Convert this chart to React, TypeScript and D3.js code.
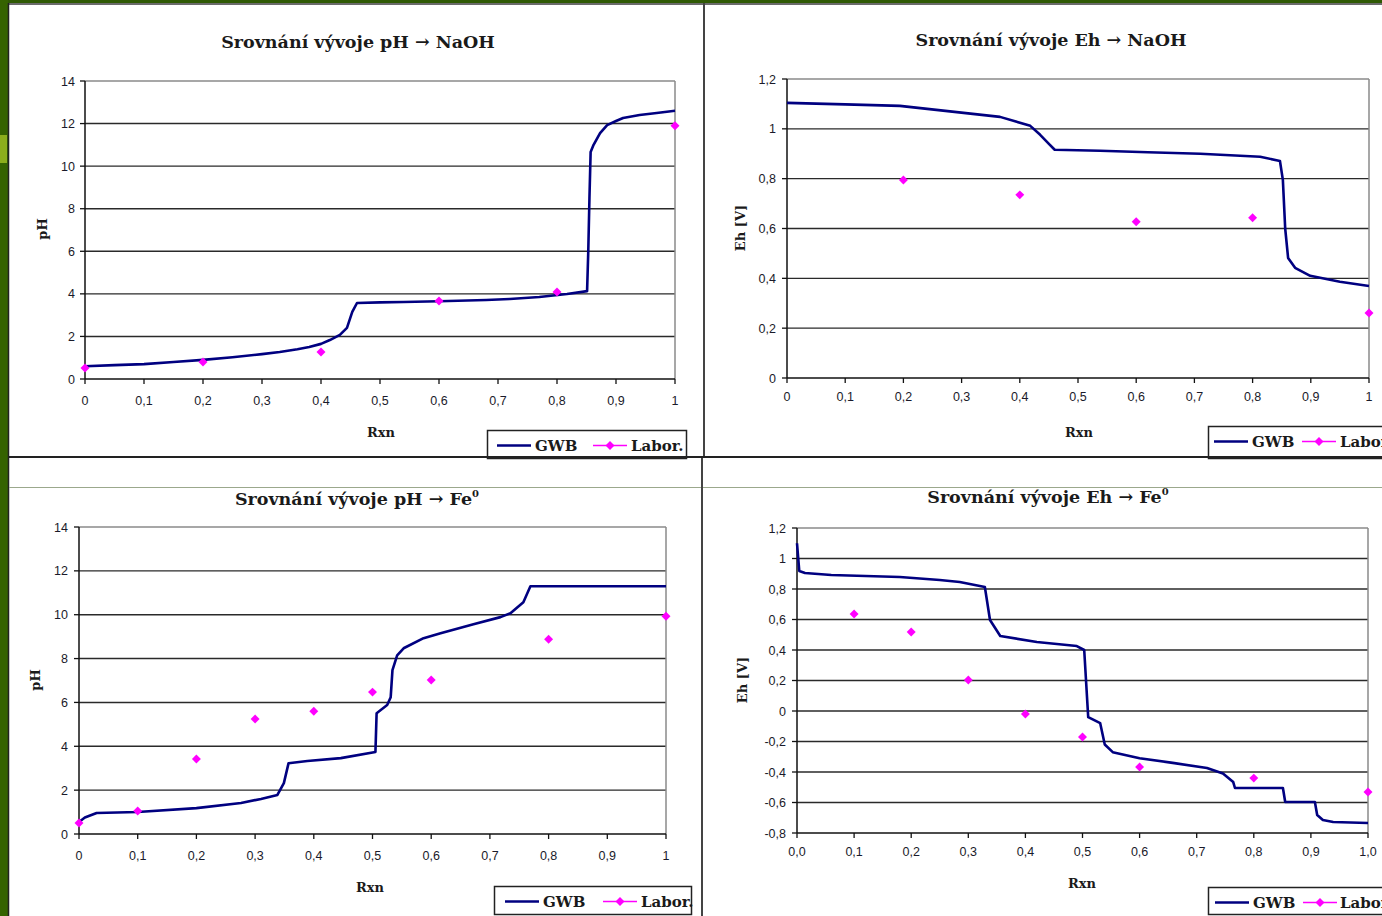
import { useEffect, useRef } from "react";
import * as d3 from "d3";

const W = 1382, H = 916;

// pH -> NaOH (GWB model curve and lab measurements)
const phNaohGwb: [number, number][] = [
  [0, 0.6], [0.05, 0.65], [0.1, 0.7], [0.15, 0.8], [0.2, 0.9], [0.25, 1.02], [0.3, 1.17],
  [0.33, 1.27], [0.36, 1.4], [0.38, 1.5], [0.4, 1.65], [0.415, 1.83], [0.432, 2.07],
  [0.444, 2.4], [0.453, 3.15], [0.461, 3.57], [0.5, 3.6], [0.54, 3.62], [0.6, 3.65],
  [0.68, 3.71], [0.72, 3.76], [0.77, 3.85], [0.817, 3.99], [0.851, 4.13], [0.853, 6],
  [0.855, 8.5], [0.857, 10.66], [0.862, 11.0], [0.873, 11.55], [0.885, 11.93], [0.9, 12.12],
  [0.912, 12.26], [0.94, 12.4], [0.969, 12.5], [1.0, 12.6],
];
const phNaohLab: [number, number][] = [
  [0, 0.52], [0.2, 0.8], [0.4, 1.27], [0.6, 3.66], [0.8, 4.09], [1.0, 11.9],
];

// Eh -> NaOH
const ehNaohGwb: [number, number][] = [
  [0, 1.104], [0.1, 1.098], [0.194, 1.092], [0.28, 1.07], [0.366, 1.048], [0.418, 1.012],
  [0.435, 0.976], [0.45, 0.94], [0.46, 0.916], [0.538, 0.912], [0.62, 0.906], [0.71, 0.9],
  [0.813, 0.888], [0.847, 0.871], [0.852, 0.795], [0.856, 0.6], [0.861, 0.482],
  [0.873, 0.442], [0.899, 0.41], [0.95, 0.386], [1.0, 0.369],
];
const ehNaohLab: [number, number][] = [
  [0.2, 0.795], [0.4, 0.735], [0.6, 0.627], [0.8, 0.643], [1.0, 0.261],
];

// pH -> Fe0
const phFeGwb: [number, number][] = [
  [0, 0.55], [0.01, 0.75], [0.03, 0.96], [0.1, 1.0], [0.2, 1.18], [0.276, 1.41], [0.31, 1.6],
  [0.338, 1.78], [0.349, 2.32], [0.357, 3.23], [0.389, 3.33], [0.446, 3.46], [0.505, 3.74],
  [0.507, 5.51], [0.525, 5.88], [0.531, 6.24], [0.534, 7.47], [0.542, 8.15], [0.553, 8.47],
  [0.587, 8.93], [0.616, 9.16], [0.672, 9.57], [0.718, 9.89], [0.735, 10.07], [0.757, 10.57],
  [0.769, 11.3], [1.0, 11.3],
];
const phFeLab: [number, number][] = [
  [0, 0.5], [0.1, 1.05], [0.2, 3.42], [0.3, 5.24], [0.4, 5.6], [0.5, 6.47], [0.6, 7.02],
  [0.8, 8.88], [1.0, 9.93],
];

// Eh -> Fe0
const ehFeGwb: [number, number][] = [
  [0, 1.1], [0.004, 0.918], [0.014, 0.905], [0.06, 0.892], [0.18, 0.879], [0.25, 0.859],
  [0.285, 0.846], [0.329, 0.813], [0.338, 0.597], [0.356, 0.492], [0.42, 0.452], [0.49, 0.426],
  [0.503, 0.4], [0.51, -0.04], [0.531, -0.08], [0.539, -0.22], [0.553, -0.27], [0.6, -0.31],
  [0.658, -0.34], [0.718, -0.374], [0.746, -0.41], [0.764, -0.466], [0.767, -0.505],
  [0.851, -0.505], [0.855, -0.597], [0.907, -0.597], [0.911, -0.682], [0.921, -0.715],
  [0.939, -0.728], [1.0, -0.734],
];
const ehFeLab: [number, number][] = [
  [0.1, 0.636], [0.2, 0.518], [0.3, 0.203], [0.4, -0.02], [0.5, -0.17], [0.6, -0.367],
  [0.8, -0.44], [1.0, -0.531],
];

const rxnTicks = [0, 0.1, 0.2, 0.3, 0.4, 0.5, 0.6, 0.7, 0.8, 0.9, 1];
const phTicks = [0, 2, 4, 6, 8, 10, 12, 14];
const ehNaohTicks = [0, 0.2, 0.4, 0.6, 0.8, 1, 1.2];
const ehFeTicks = [-0.8, -0.6, -0.4, -0.2, 0, 0.2, 0.4, 0.6, 0.8, 1, 1.2];

const comma = (d: number) => String(+d.toFixed(1)).replace(".", ",");
const comma1 = (d: number) => d.toFixed(1).replace(".", ",");

// leg: [boxX, boxY, boxW, boxH, lineStart, gwbTextX, labLineStart, labTextX]
const panels = [
  {
    title: "Srovnání vývoje pH → NaOH", sup: "", yLabel: "pH",
    gwb: phNaohGwb, lab: phNaohLab, yTicks: phTicks, xFmt: comma,
    x0: 85, x1: 675, y0: 81, y1: 379, xlDy: 26, ylDx: 10,
    tx: 358, ty: 48, yl: [42, 229], rx: [381, 432],
    leg: [487, 430, 199, 28, 10, 48, 106, 144],
  },
  {
    title: "Srovnání vývoje Eh → NaOH", sup: "", yLabel: "Eh [V]",
    gwb: ehNaohGwb, lab: ehNaohLab, yTicks: ehNaohTicks, xFmt: comma,
    x0: 787, x1: 1369, y0: 79, y1: 378, xlDy: 23, ylDx: 11,
    tx: 1051, ty: 46, yl: [740, 228], rx: [1079, 432],
    leg: [1208, 426, 199, 32, 6, 44, 94, 132],
  },
  {
    title: "Srovnání vývoje pH → Fe", sup: "0", yLabel: "pH",
    gwb: phFeGwb, lab: phFeLab, yTicks: phTicks, xFmt: comma,
    x0: 79, x1: 666, y0: 527, y1: 834, xlDy: 26, ylDx: 11,
    tx: 357, ty: 505, yl: [35, 680], rx: [370, 887],
    leg: [494, 886, 197, 28, 11, 49, 109, 147],
  },
  {
    title: "Srovnání vývoje Eh → Fe", sup: "0", yLabel: "Eh [V]",
    gwb: ehFeGwb, lab: ehFeLab, yTicks: ehFeTicks, xFmt: comma1,
    x0: 797, x1: 1368, y0: 528, y1: 833, xlDy: 23, ylDx: 11,
    tx: 1048, ty: 503, yl: [742, 680], rx: [1082, 883],
    leg: [1208, 887, 199, 27, 7, 45, 95, 132],
  },
];

const NAVY = "#000080";
const MAGENTA = "#ff00ff";
const serif = "'DejaVu Serif', serif";
const sans = "'Liberation Sans', Arial, sans-serif";

export default function App() {
  const svgRef = useRef<SVGSVGElement>(null);

  useEffect(() => {
    const svg = d3.select(svgRef.current);
    svg.selectAll("*").remove();

    // page background and slide frame
    svg.append("rect").attr("width", W).attr("height", H).attr("fill", "#fff");
    svg.append("rect").attr("width", W).attr("height", 3).attr("fill", "#2f5a04");
    svg.append("rect").attr("width", 8).attr("height", H).attr("fill", "#356300");
    svg.append("rect").attr("y", 135).attr("width", 7).attr("height", 28).attr("fill", "#8cae1c");

    const frame = svg.append("g").attr("fill", "none");
    frame.append("line").attr("x1", 8).attr("x2", W).attr("y1", 4).attr("y2", 4)
      .attr("stroke", "#3a3a3a").attr("stroke-width", 1.5);
    frame.append("line").attr("x1", 8.5).attr("x2", 8.5).attr("y1", 3).attr("y2", H)
      .attr("stroke", "#222").attr("stroke-width", 1.5);
    frame.append("line").attr("x1", 704).attr("x2", 704).attr("y1", 3).attr("y2", 457)
      .attr("stroke", "#444").attr("stroke-width", 2);
    frame.append("line").attr("x1", 702).attr("x2", 702).attr("y1", 457).attr("y2", H)
      .attr("stroke", "#444").attr("stroke-width", 2);
    frame.append("line").attr("x1", 9).attr("x2", 701).attr("y1", 487.5).attr("y2", 487.5)
      .attr("stroke", "#9ba88c").attr("stroke-width", 1);
    frame.append("line").attr("x1", 703).attr("x2", W).attr("y1", 487.5).attr("y2", 487.5)
      .attr("stroke", "#9ba88c").attr("stroke-width", 1);

    // Excel-style diamond marker: a square turned by 45 degrees
    const diamond = d3.symbol().type(d3.symbolSquare).size(40);

    panels.forEach(p => {
      const x = d3.scaleLinear().domain([0, 1]).range([p.x0, p.x1]);
      const yd = d3.extent(p.yTicks) as [number, number];
      const y = d3.scaleLinear().domain(yd).range([p.y1, p.y0]);
      const g = svg.append("g");

      // gridlines
      g.selectAll(".grid")
        .data(p.yTicks.filter(t => t !== yd[0]))
        .join("line")
        .attr("x1", p.x0).attr("x2", p.x1)
        .attr("y1", d => y(d)).attr("y2", d => y(d))
        .attr("stroke", d => (d === yd[1] ? "#8a8a8a" : "#2a2a2a"))
        .attr("stroke-width", 1.4);

      // right border
      g.append("line").attr("x1", p.x1).attr("x2", p.x1).attr("y1", p.y0).attr("y2", p.y1)
        .attr("stroke", "#8a8a8a").attr("stroke-width", 1.5);

      // axes
      g.append("line").attr("x1", p.x0).attr("x2", p.x0).attr("y1", p.y0).attr("y2", p.y1)
        .attr("stroke", "#111").attr("stroke-width", 1.5);
      g.append("line").attr("x1", p.x0).attr("x2", p.x1).attr("y1", p.y1).attr("y2", p.y1)
        .attr("stroke", "#111").attr("stroke-width", 1.5);

      g.selectAll(".yt").data(p.yTicks).join("line")
        .attr("x1", p.x0 - 5).attr("x2", p.x0)
        .attr("y1", d => y(d)).attr("y2", d => y(d))
        .attr("stroke", "#111").attr("stroke-width", 1.3);
      g.selectAll(".xt").data(rxnTicks).join("line")
        .attr("x1", d => x(d)).attr("x2", d => x(d))
        .attr("y1", p.y1).attr("y2", p.y1 + 5)
        .attr("stroke", "#111").attr("stroke-width", 1.3);

      g.selectAll(".yl").data(p.yTicks).join("text")
        .attr("x", p.x0 - p.ylDx).attr("y", d => y(d) + 4.5)
        .attr("text-anchor", "end")
        .attr("font-family", sans).attr("font-size", 12.5).attr("fill", "#1a1a2a")
        .text(d => comma(d));
      g.selectAll(".xl").data(rxnTicks).join("text")
        .attr("x", d => x(d)).attr("y", p.y1 + p.xlDy)
        .attr("text-anchor", "middle")
        .attr("font-family", sans).attr("font-size", 12.5).attr("fill", "#1a1a2a")
        .text(d => p.xFmt(d));

      // title
      const t = g.append("text")
        .attr("x", p.tx).attr("y", p.ty)
        .attr("text-anchor", "middle")
        .attr("font-family", serif).attr("font-size", 17.5).attr("font-weight", "bold")
        .attr("fill", "#1a1a1a")
        .text(p.title);
      if (p.sup) {
        t.append("tspan").attr("dy", -8).attr("font-size", 10).text(p.sup);
      }

      // axis titles
      g.append("text")
        .attr("transform", `translate(${p.yl[0] + 5},${p.yl[1]}) rotate(-90)`)
        .attr("text-anchor", "middle")
        .attr("font-family", serif).attr("font-size", 13).attr("font-weight", "bold")
        .attr("fill", "#1a1a1a")
        .text(p.yLabel);
      g.append("text")
        .attr("x", p.rx[0]).attr("y", p.rx[1] + 5)
        .attr("text-anchor", "middle")
        .attr("font-family", serif).attr("font-size", 13).attr("font-weight", "bold")
        .attr("fill", "#1a1a1a")
        .text("Rxn");

      // GWB curve
      const line = d3.line<[number, number]>().x(d => x(d[0])).y(d => y(d[1]));
      g.append("path").datum(p.gwb)
        .attr("d", line)
        .attr("fill", "none").attr("stroke", NAVY).attr("stroke-width", 2.6)
        .attr("stroke-linejoin", "round");

      // lab points
      g.selectAll(".lab").data(p.lab).join("path")
        .attr("d", diamond)
        .attr("transform", d => `translate(${x(d[0])},${y(d[1])}) rotate(45)`)
        .attr("fill", MAGENTA);

      // legend
      const [lx, ly, lw, lh, ls, gx, ms, mx] = p.leg;
      const lg = svg.append("g").attr("transform", `translate(${lx},${ly})`);
      lg.append("rect").attr("x", 0.5).attr("y", 0.5).attr("width", lw).attr("height", lh)
        .attr("fill", "#fff").attr("stroke", "#222").attr("stroke-width", 1.5);
      const cy = 15.5;
      lg.append("line").attr("x1", ls).attr("x2", ls + 34).attr("y1", cy).attr("y2", cy)
        .attr("stroke", NAVY).attr("stroke-width", 2.5);
      lg.append("text").attr("x", gx).attr("y", cy + 5.5)
        .attr("font-family", serif).attr("font-size", 15).attr("font-weight", "bold")
        .attr("fill", "#1a1a1a").text("GWB");
      lg.append("line").attr("x1", ms).attr("x2", ms + 34).attr("y1", cy).attr("y2", cy)
        .attr("stroke", MAGENTA).attr("stroke-width", 1.5);
      lg.append("path").attr("d", diamond).attr("transform", `translate(${ms + 17},${cy}) rotate(45)`)
        .attr("fill", MAGENTA);
      lg.append("text").attr("x", mx).attr("y", cy + 5.5)
        .attr("font-family", serif).attr("font-size", 15).attr("font-weight", "bold")
        .attr("fill", "#1a1a1a").text("Labor.");
    });

    // panel divider drawn last so the top legends end on it
    svg.append("line").attr("x1", 8).attr("x2", W).attr("y1", 457).attr("y2", 457)
      .attr("stroke", "#222").attr("stroke-width", 2);
  }, []);

  return (
    <svg
      ref={svgRef}
      width={W}
      height={H}
      style={{ position: "absolute", left: 0, top: 0, display: "block" }}
    />
  );
}
